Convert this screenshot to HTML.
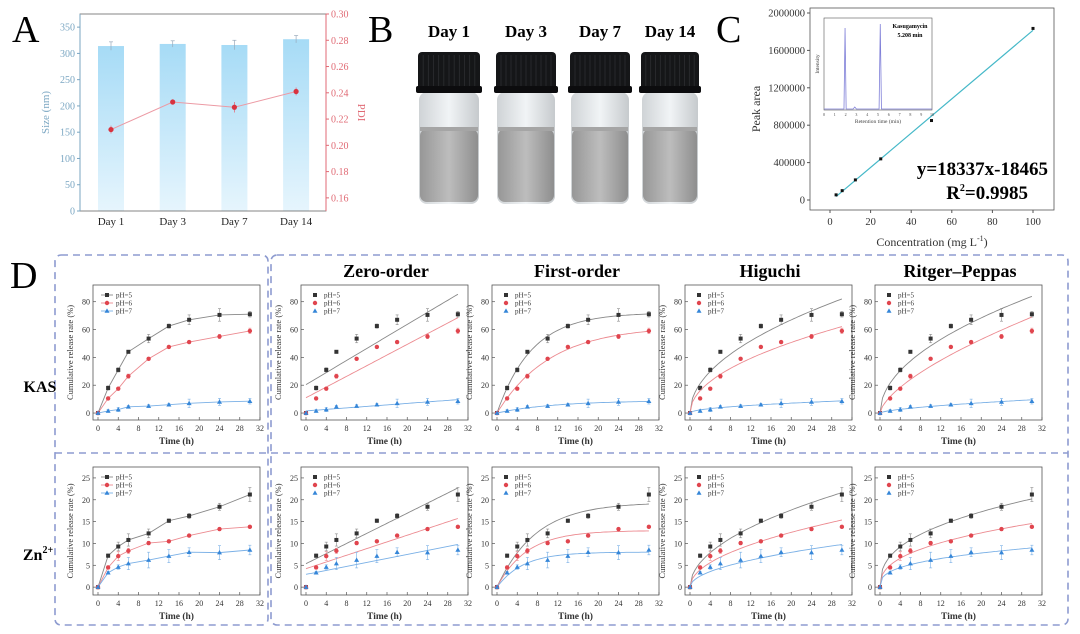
<!DOCTYPE html>
<html><head><meta charset="utf-8"><style>
body{margin:0;background:#fff}
svg{display:block;font-family:"Liberation Serif",serif}
</style></head><body>
<svg id="fig" width="1080" height="634" viewBox="0 0 1080 634" xmlns="http://www.w3.org/2000/svg">
<defs>
<linearGradient id="barg" x1="0" y1="0" x2="0" y2="1"><stop offset="0" stop-color="#a6dbf6"/><stop offset="1" stop-color="#e6f5fd"/></linearGradient>
<linearGradient id="liq" x1="0" y1="0" x2="1" y2="0"><stop offset="0" stop-color="#979797"/><stop offset="0.5" stop-color="#bdbdbd"/><stop offset="1" stop-color="#8e8e8e"/></linearGradient>
<linearGradient id="glass" x1="0" y1="0" x2="1" y2="0"><stop offset="0" stop-color="#cfd3d6"/><stop offset="0.5" stop-color="#f1f4f6"/><stop offset="1" stop-color="#c6cacd"/></linearGradient>
</defs>
<g id="root"></g>
</svg>
<script>
// ---------- Panel A data ----------
const aDays = ["Day 1","Day 3","Day 7","Day 14"];
const aSize = [314,318,316,327];
const aSizeErr = [8,6,9,7];
const aPDI = [0.212,0.233,0.229,0.241];
const aPDIErr = [0.003,0.002,0.004,0.003];
const aLeftTicks = [0,50,100,150,200,250,300,350];
const aRightTicks = [0.16,0.18,0.20,0.22,0.24,0.26,0.28,0.30];
// ---------- Panel C data ----------
const cConc = [3,6,12.5,25,50,100];
const cArea = [55000,100000,215000,440000,850000,1835000];
const cXTicks = [0,20,40,60,80,100];
const cYTicks = [0,400000,800000,1200000,1600000,2000000];
const cSlope = 18337, cIntercept = -18465;
// ---------- Panel D data ----------
const tHours = [0,2,4,6,10,14,18,24,30];
const kas5 = [0,18,31,44,53.5,62.5,67,70.5,71];
const kas6 = [0,10.5,17.5,26.5,39,47.5,51,55,59];
const kas7 = [0,1.5,2.5,4.5,5,6,7,8,8.5];
const kasErr5 = [0,1.5,1.5,1,3,1.5,3.5,4.5,2];
const kasErr6 = [0,1,1,1.5,1,1,1,1.5,2];
const kasErr7 = [0,1,1.5,1,1,1,3,2.5,2];
const zn5 = [0,7.2,9.3,10.8,12.3,15.2,16.3,18.4,21.2];
const zn6 = [0,4.5,7.1,8.3,10.1,10.5,11.8,13.3,13.8];
const zn7 = [0,3.3,4.6,5.4,6.2,7.1,8.0,7.9,8.5];
const znErr5 = [0,0.4,1,1.4,1,0.4,0.6,0.8,1.6];
const znErr6 = [0,0.4,1,0.6,0.4,0.3,0.3,0.3,0.3];
const znErr7 = [0,0.3,0.5,1.4,1.8,1.5,1,1.6,1.1];
const xTicksD = [0,4,8,12,16,20,24,28,32];
const kasYTicks = [0,20,40,60,80];
const znYTicks = [0,5,10,15,20,25];
const models = ["raw","Zero-order","First-order","Higuchi","Ritger\u2013Peppas"];

const NS="http://www.w3.org/2000/svg";
const root=document.getElementById('root');
function el(tag,attrs,parent,text){const e=document.createElementNS(NS,tag);for(const k in attrs)e.setAttribute(k,attrs[k]);if(text!==undefined)e.textContent=text;(parent||root).appendChild(e);return e;}

// ===== Panel A =====
{
const g=el('g',{});


const L=80,R=326,T=14,B=211;
const yL=v=>B-(v/375)*(B-T);
const yR=v=>B-((v-0.15)/0.15)*(B-T);
const xc=i=>L+31+i*61.7;
const lt=el('text',{x:12,y:42,'font-size':38},g,'A');

aSize.forEach((v,i)=>{
  const b=el('rect',{x:xc(i)-13,y:yL(v),width:26,height:B-yL(v),fill:'url(#barg)'},g);
  
  
  el('line',{x1:xc(i),x2:xc(i),y1:yL(v+aSizeErr[i]),y2:yL(v-aSizeErr[i]),stroke:'#9ab','stroke-width':0.7},g);
  el('line',{x1:xc(i)-2,x2:xc(i)+2,y1:yL(v+aSizeErr[i]),y2:yL(v+aSizeErr[i]),stroke:'#9ab','stroke-width':0.7},g);
  const t=el('text',{x:xc(i),y:B+14,'font-size':11,'text-anchor':'middle',fill:'#222'},g,aDays[i]);
  
});
el('polyline',{points:aPDI.map((v,i)=>xc(i)+','+yR(v)).join(' '),fill:'none',stroke:'#ec9aa4','stroke-width':1},g);
aPDI.forEach((v,i)=>{
  el('line',{x1:xc(i),x2:xc(i),y1:yR(v+aPDIErr[i]),y2:yR(v-aPDIErr[i]),stroke:'#e07080','stroke-width':0.8},g);
  const c=el('circle',{cx:xc(i),cy:yR(v),r:2.6,fill:'#d8333f'},g);
  
});
el('rect',{x:L,y:T,width:R-L,height:B-T,fill:'none',stroke:'#666','stroke-width':0.8},g);
el('line',{x1:L,x2:L,y1:T,y2:B,stroke:'#7aa6c2','stroke-width':1},g);
el('line',{x1:R,x2:R,y1:T,y2:B,stroke:'#e06a74','stroke-width':1},g);
aLeftTicks.forEach(v=>{el('line',{x1:L-3,x2:L,y1:yL(v),y2:yL(v),stroke:'#7aa6c2'},g);
  const t=el('text',{x:L-5,y:yL(v)+3.5,'font-size':10,'text-anchor':'end',fill:'#7aa6c2'},g,v);
  });
aRightTicks.forEach(v=>{el('line',{x1:R,x2:R+3,y1:yR(v),y2:yR(v),stroke:'#e06a74'},g);
  const t=el('text',{x:R+5,y:yR(v)+3.5,'font-size':10,fill:'#e06a74'},g,v.toFixed(2));
  });
const yl=el('text',{x:0,y:0,'font-size':11,fill:'#7aa6c2','text-anchor':'middle',transform:`translate(49,${(T+B)/2}) rotate(-90)`},g,'Size (nm)');

const yr=el('text',{x:0,y:0,'font-size':11,fill:'#e06a74','text-anchor':'middle',transform:`translate(358,${(T+B)/2}) rotate(90)`},g,'PDI');

}

// ===== Panel B (vials) =====
{
const g=el('g',{});


const lb=el('text',{x:368,y:42,'font-size':38},g,'B');

const vx=[418,496,570,641], vw=[62,60,60,58], lab=["Day 1","Day 3","Day 7","Day 14"];
vx.forEach((x,i)=>{
  const w=vw[i];
  const t=el('text',{x:x+w/2,y:37,'font-size':17,'font-weight':'bold','text-anchor':'middle'},g,lab[i]);
  
  const vg=el('g',{},g);
  
  el('rect',{x:x+1,y:92,width:w-2,height:112,rx:8,fill:'url(#glass)'},vg);
  el('rect',{x:x+2,y:129,width:w-4,height:73,rx:7,fill:'url(#liq)'},vg);
  el('rect',{x:x+2,y:127,width:w-4,height:4,fill:'#a5a5a5'},vg);
  el('rect',{x:x,y:52,width:w,height:38,rx:4,fill:'#151618'},vg);
  el('rect',{x:x-2,y:86,width:w+4,height:7,rx:2,fill:'#0c0c0e'},vg);
  for(let k=1;k<12;k++)el('line',{x1:x+k*w/12,x2:x+k*w/12,y1:55,y2:86,stroke:'#2c2e31','stroke-width':0.8},vg);
});
}

// ===== Panel C =====
{
const g=el('g',{});


const lc=el('text',{x:716,y:42,'font-size':38},g,'C');

const L=810,R=1054,T=8,B=210;
const x=v=>830+(v/100)*203;
const y=v=>200-(v/2000000)*187;
el('rect',{x:L,y:T,width:R-L,height:B-T,fill:'none',stroke:'#555','stroke-width':0.8},g);
cXTicks.forEach(v=>{el('line',{x1:x(v),x2:x(v),y1:B,y2:B+3,stroke:'#555'},g);
  const t=el('text',{x:x(v),y:B+15,'font-size':10.5,'text-anchor':'middle',fill:'#333'},g,v);
  });
cYTicks.forEach(v=>{el('line',{x1:L-3,x2:L,y1:y(v),y2:y(v),stroke:'#555'},g);
  const t=el('text',{x:L-5,y:y(v)+3.5,'font-size':10.5,'text-anchor':'end',fill:'#333'},g,v);
  });
const xt=el('text',{x:932,y:246,'font-size':12,'text-anchor':'middle',fill:'#333'},g,'Concentration (mg L');
el('tspan',{'font-size':8,dy:-5},xt,'-1');el('tspan',{dy:5},xt,')');

const yt=el('text',{x:0,y:0,'font-size':12,'text-anchor':'middle',fill:'#333',transform:`translate(760,${(T+B)/2}) rotate(-90)`},g,'Peak area');

const fl=el('line',{x1:x(3),y1:y(cSlope*3+cIntercept),x2:x(100),y2:y(cSlope*100+cIntercept),stroke:'#45b8c8','stroke-width':1.2},g);

cConc.forEach((c,i)=>{const p=el('rect',{x:x(c)-1.5,y:y(cArea[i])-1.5,width:3,height:3,fill:'#111'},g);
  });
const eq=el('text',{x:1048,y:175,'font-size':19,'font-weight':'bold','text-anchor':'end'},g,'y=18337x-18465');

const r2=el('text',{x:1028,y:199,'font-size':19,'font-weight':'bold','text-anchor':'end'},g,'R');
el('tspan',{'font-size':10,dy:-8},r2,'2');el('tspan',{dy:8},r2,'=0.9985');

const ig=el('g',{},g);
const iL=824,iR=932,iT=18,iB=110;
const ix=v=>iL+(v/10)*(iR-iL);
el('rect',{x:iL,y:iT,width:iR-iL,height:iB-iT,fill:'#fff',stroke:'#555','stroke-width':0.6},ig);
el('path',{d:`M${iL} ${iB-1} L${ix(1.85)} ${iB-1} L${ix(1.95)} ${iT+10} L${ix(2.05)} ${iB-1} L${ix(2.7)} ${iB-1} L${ix(2.85)} ${iB-3} L${ix(3)} ${iB-1} L${ix(5.1)} ${iB-1} L${ix(5.21)} ${iT+6} L${ix(5.32)} ${iB-1} L${iR} ${iB-1}`,fill:'none',stroke:'#8080d8','stroke-width':0.8},ig);
for(let k=0;k<=10;k++)el('text',{x:ix(k),y:iB+6,'font-size':4,'text-anchor':'middle',fill:'#444'},ig,k);
el('text',{x:878,y:123,'font-size':5.5,'text-anchor':'middle',fill:'#444'},ig,'Retention time (min)');
el('text',{x:0,y:0,'font-size':5.5,'text-anchor':'middle',fill:'#444',transform:'translate(819,64) rotate(-90)'},ig,'Intensity');
el('text',{x:910,y:28,'font-size':6,'font-weight':'bold','text-anchor':'middle'},ig,'Kasugamycin');
el('text',{x:910,y:37,'font-size':6,'font-weight':'bold','text-anchor':'middle'},ig,'5.208 min');
}

// ===== Panel D =====
function fitModel(model,t,y){
  const pts=t.map((v,i)=>[v,y[i]]);
  if(model==="Zero-order"){let n=pts.length,sx=0,sy=0,sxx=0,sxy=0;pts.forEach(([a,b])=>{sx+=a;sy+=b;sxx+=a*a;sxy+=a*b});
    const b=(n*sxy-sx*sy)/(n*sxx-sx*sx),a=(sy-b*sx)/n;return x=>a+b*x;}
  if(model==="Higuchi"){let num=0,den=0;pts.forEach(([a,b])=>{num+=Math.sqrt(a)*b;den+=a});const k=num/den;return x=>k*Math.sqrt(x);}
  if(model==="First-order"){let best=null;for(let k=0.005;k<1;k+=0.005){let num=0,den=0;pts.forEach(([a,b])=>{const f=1-Math.exp(-k*a);num+=f*b;den+=f*f});const A=num/den;let e=0;pts.forEach(([a,b])=>{const d=A*(1-Math.exp(-k*a))-b;e+=d*d});if(!best||e<best.e)best={e:e,A:A,k:k};}
    return x=>best.A*(1-Math.exp(-best.k*x));}
  const lp=pts.filter(p=>p[0]>0&&p[1]>0).map(([a,b])=>[Math.log(a),Math.log(b)]);
  let n=lp.length,sx=0,sy=0,sxx=0,sxy=0;lp.forEach(([a,b])=>{sx+=a;sy+=b;sxx+=a*a;sxy+=a*b});
  const nn=(n*sxy-sx*sy)/(n*sxx-sx*sx),lk=(sy-nn*sx)/n;return x=>x<=0?0:Math.exp(lk)*Math.pow(x,nn);
}
const colLeft=[93,301,492,685,875];
const rows=[
  {name:'kas',T:285,B:420,ymin:-5,ymax:92,ticks:kasYTicks,series:[kas5,kas6,kas7],errs:[kasErr5,kasErr6,kasErr7]},
  {name:'zn',T:467,B:595,ymin:-1.8,ymax:27.5,ticks:znYTicks,series:[zn5,zn6,zn7],errs:[znErr5,znErr6,znErr7]}
];
const colors=['#333333','#e0454e','#3586d8'];
const lineColors=['#888','#ec8a90','#7ab0e6'];
const labels=['pH=5','pH=6','pH=7'];
function marker(g,type,cx,cy,col){
  if(type===0)return el('rect',{x:cx-2,y:cy-2,width:4,height:4,fill:col},g);
  if(type===1)return el('circle',{cx:cx,cy:cy,r:2.2,fill:col},g);
  return el('path',{d:`M${cx} ${cy-2.6} L${cx+2.5} ${cy+1.8} L${cx-2.5} ${cy+1.8}Z`,fill:col},g);
}
rows.forEach(row=>{
  models.forEach((m,ci)=>{
    const g=el('g',{});
    
    
    const L=colLeft[ci],R=L+167,T=row.T,B=row.B;
    const x=v=>L+5+(v/32)*(R-L-5);
    const y=v=>B-((v-row.ymin)/(row.ymax-row.ymin))*(B-T);
    el('rect',{x:L,y:T,width:R-L,height:B-T,fill:'none',stroke:'#555','stroke-width':0.8},g);
    xTicksD.forEach(v=>{el('line',{x1:x(v),x2:x(v),y1:B,y2:B-3,stroke:'#555','stroke-width':0.7},g);
      const t=el('text',{x:x(v),y:B+11,'font-size':8,'text-anchor':'middle',fill:'#333'},g,v);
      });
    row.ticks.forEach(v=>{el('line',{x1:L,x2:L+3,y1:y(v),y2:y(v),stroke:'#555','stroke-width':0.7},g);
      const t=el('text',{x:L-3,y:y(v)+3,'font-size':8,'text-anchor':'end',fill:'#333'},g,v);
      });
    const xt=el('text',{x:(L+R)/2,y:B+24,'font-size':9.5,'font-weight':'bold','text-anchor':'middle',fill:'#333'},g,'Time (h)');
    
    const yt=el('text',{x:0,y:0,'font-size':8.5,'text-anchor':'middle',fill:'#333',transform:`translate(${L-20},${(T+B)/2}) rotate(-90)`},g,'Cumulative release rate (%)');
    
    row.series.forEach((s,si)=>{
      if(ci===0){
        const pl=el('polyline',{points:s.map((v,i)=>x(tHours[i])+','+y(v)).join(' '),fill:'none',stroke:lineColors[si],'stroke-width':0.9},g);
        
      } else {
        const f=fitModel(m,tHours,s);let d='';
        for(let k=0;k<=60;k++){const tt=k*0.5;d+=(k?'L':'M')+x(tt).toFixed(1)+' '+y(f(tt)).toFixed(1);}
        const p=el('path',{d:d,fill:'none',stroke:lineColors[si],'stroke-width':0.9},g);
        
      }
      s.forEach((v,i)=>{
        const e=row.errs[si][i];
        if(e>0){el('line',{x1:x(tHours[i]),x2:x(tHours[i]),y1:y(v+e),y2:y(v-e),stroke:lineColors[si],'stroke-width':0.6},g);
          el('line',{x1:x(tHours[i])-1.5,x2:x(tHours[i])+1.5,y1:y(v+e),y2:y(v+e),stroke:lineColors[si],'stroke-width':0.6},g);
          el('line',{x1:x(tHours[i])-1.5,x2:x(tHours[i])+1.5,y1:y(v-e),y2:y(v-e),stroke:lineColors[si],'stroke-width':0.6},g);}
        const mk=marker(g,si,x(tHours[i]),y(v),colors[si]);
        
      });
      const ly=T+10+si*8;
      if(ci===0)el('line',{x1:L+8,x2:L+20,y1:ly,y2:ly,stroke:lineColors[si],'stroke-width':0.9},g);
      marker(g,si,L+14,ly,colors[si]);
      const lt=el('text',{x:L+23,y:ly+2.5,'font-size':7,fill:'#333'},g,labels[si]);
      
    });
  });
});
{
const g=el('g',{});

const ds={fill:'none',stroke:'#8d9bd0','stroke-width':1.6,'stroke-dasharray':'7 5'};
el('rect',Object.assign({x:55,y:255,width:213,height:370,rx:6},ds),g);
el('rect',Object.assign({x:271,y:255,width:797,height:370,rx:6},ds),g);
el('line',Object.assign({x1:55,x2:1068,y1:453,y2:453},ds),g);
const ld=el('text',{x:10,y:288,'font-size':38},g,'D');

const k=el('text',{x:40,y:392,'font-size':16,'font-weight':'bold','text-anchor':'middle'},g,'KAS');

const z=el('text',{x:38,y:560,'font-size':16,'font-weight':'bold','text-anchor':'middle'},g,'Zn');
el('tspan',{'font-size':10,dy:-7},z,'2+');

[[1,'Zero-order'],[2,'First-order'],[3,'Higuchi'],[4,'Ritger\u2013Peppas']].forEach(([c,n])=>{
  const t=el('text',{x:colLeft[c]+85,y:277,'font-size':18,'font-weight':'bold','text-anchor':'middle'},g,n);
  
});
}
</script>
</body></html>
